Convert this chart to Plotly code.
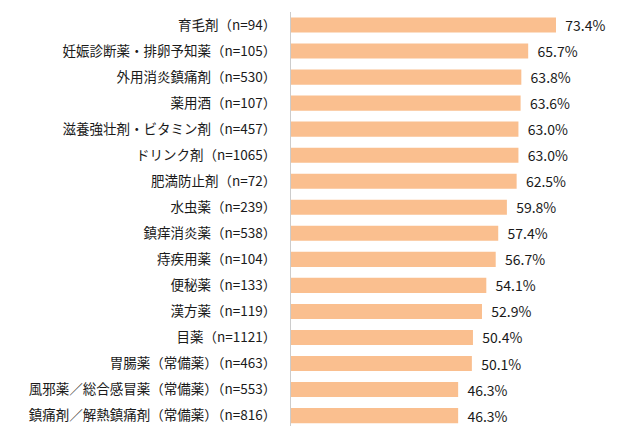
import plotly.graph_objects as go

categories = [
    "育毛剤（n=94）",
    "妊娠診断薬・排卵予知薬（n=105）",
    "外用消炎鎮痛剤（n=530）",
    "薬用酒（n=107）",
    "滋養強壮剤・ビタミン剤（n=457）",
    "ドリンク剤（n=1065）",
    "肥満防止剤（n=72）",
    "水虫薬（n=239）",
    "鎮痒消炎薬（n=538）",
    "痔疾用薬（n=104）",
    "便秘薬（n=133）",
    "漢方薬（n=119）",
    "目薬（n=1121）",
    "胃腸薬（常備薬）（n=463）",
    "風邪薬／総合感冒薬（常備薬）（n=553）",
    "鎮痛剤／解熱鎮痛剤（常備薬）（n=816）",
]
values = [73.4, 65.7, 63.8, 63.6, 63.0, 63.0, 62.5, 59.8, 57.4, 56.7, 54.1, 52.9, 50.4, 50.1, 46.3, 46.3]
value_labels = [f"{v:.1f}%" for v in values]

fig = go.Figure(
    go.Bar(
        x=values,
        y=categories,
        orientation="h",
        marker=dict(color="#FABF8F", line=dict(width=0)),
        text=["  " + t for t in value_labels],
        textposition="outside",
        constraintext="none",
        textfont=dict(size=14, color="#1a1a1a", family="Noto Sans CJK JP"),
        cliponaxis=False,
        width=0.58,
    )
)

# page body has an 8px default margin, so offsets are compensated
fig.update_layout(
    width=632,
    height=418,
    margin=dict(l=283, r=0, t=4, b=0),
    paper_bgcolor="white",
    plot_bgcolor="white",
    showlegend=False,
    font=dict(family="Noto Sans CJK JP", size=13, color="#1a1a1a"),
)
fig.update_xaxes(
    range=[0, 96.67],
    showgrid=False,
    zeroline=False,
    showticklabels=False,
    showline=False,
    automargin=False,
)
fig.update_yaxes(
    type="category",
    range=[15.4, -0.5],
    showgrid=False,
    zeroline=False,
    showline=True,
    linecolor="#cccccc",
    linewidth=1,
    ticks="",
    ticklabelstandoff=11,
    automargin=False,
    tickfont=dict(size=13.5, color="#1a1a1a", family="Noto Sans CJK JP"),
)

fig.write_html("out.html")
